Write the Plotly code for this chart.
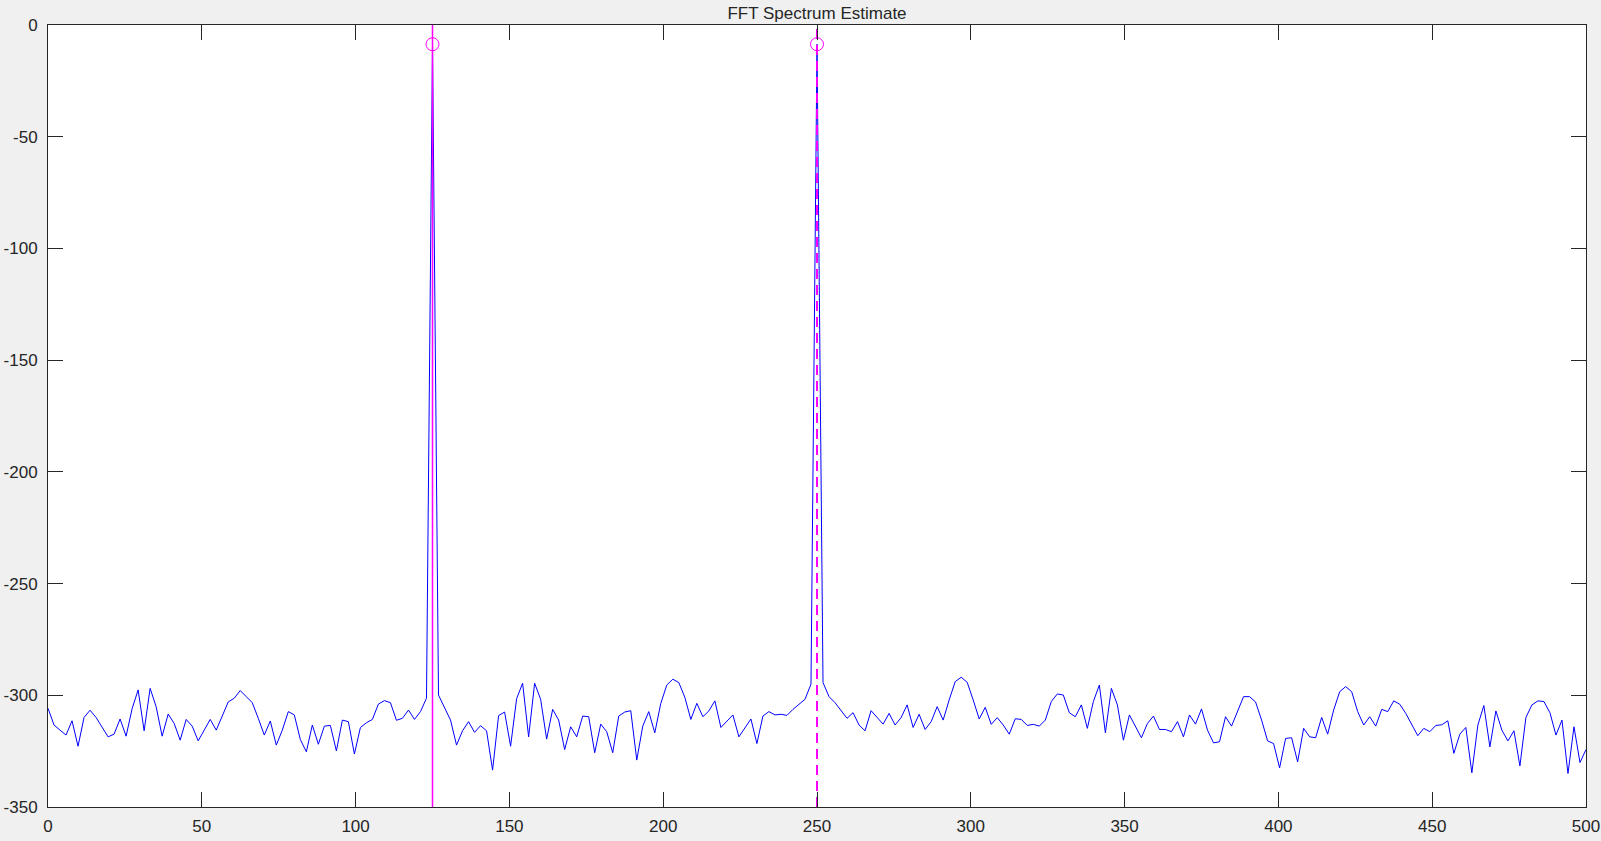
import plotly.graph_objects as go

fs = 1000
nfft = 512

# magnitude (dB) per FFT bin k = 0..256
mag_db = [
    -305.8, -313.3, -315.6, -317.8, -311.4, -322.8, -309.9, -306.7, -309.9, -314.1,
    -318.6, -317.4, -310.6, -318.3, -306.0, -297.6, -315.9, -296.9, -305.1, -318.3,
    -308.4, -312.6, -320.1, -310.8, -313.8, -320.4, -315.3, -310.8, -315.6, -309.3,
    -303.0, -301.3, -297.9, -300.6, -303.3, -310.3, -317.8, -311.5, -322.3, -315.6,
    -307.3, -308.8, -319.8, -325.3, -313.3, -321.9, -313.8, -313.5, -324.9, -311.1,
    -311.8, -326.3, -314.4, -312.3, -310.8, -303.9, -302.4, -303.3, -311.2, -310.3,
    -306.6, -310.8, -307.3, -301.3, -8.6, -299.9, -305.8, -311.1, -322.3, -315.9,
    -311.8, -316.6, -313.6, -315.9, -333.5, -309.1, -307.5, -322.8, -301.5, -294.6,
    -318.6, -294.6, -301.8, -319.6, -306.3, -311.1, -324.3, -314.1, -318.6, -309.3,
    -309.6, -325.7, -312.9, -316.3, -325.7, -309.3, -307.5, -306.9, -329.0, -313.8,
    -307.3, -316.8, -303.6, -295.4, -292.8, -294.3, -300.9, -310.8, -303.6, -309.6,
    -307.0, -302.5, -314.4, -311.5, -308.8, -318.6, -314.4, -310.6, -321.6, -309.3,
    -307.3, -308.8, -308.5, -309.0, -306.3, -304.0, -301.8, -295.0, -8.6, -294.3,
    -300.6, -303.3, -306.9, -310.3, -307.8, -313.3, -315.9, -306.9, -309.9, -312.9,
    -308.1, -313.3, -310.0, -304.3, -314.4, -308.5, -315.3, -311.8, -305.1, -311.1,
    -302.1, -293.9, -291.9, -294.2, -302.1, -310.6, -305.4, -313.0, -310.0, -313.3,
    -317.4, -310.5, -310.8, -313.5, -313.0, -313.8, -311.1, -302.8, -299.4, -299.9,
    -307.8, -309.6, -304.3, -314.8, -302.8, -295.4, -316.8, -296.9, -304.3, -320.1,
    -308.8, -313.8, -319.0, -312.6, -309.3, -315.3, -315.3, -316.3, -311.8, -318.6,
    -308.8, -312.9, -306.1, -315.6, -321.3, -320.8, -309.6, -313.8, -306.9, -300.6,
    -300.6, -303.0, -311.1, -320.4, -321.6, -332.5, -319.3, -319.0, -329.8, -314.8,
    -318.6, -319.0, -309.9, -317.4, -306.6, -298.4, -296.1, -298.4, -307.3, -313.3,
    -309.6, -313.8, -306.3, -307.3, -302.5, -304.0, -308.1, -313.3, -318.1, -314.8,
    -316.3, -313.5, -313.2, -311.4, -326.0, -317.4, -314.4, -334.7, -313.3, -304.6,
    -323.1, -307.0, -315.6, -320.4, -315.9, -331.6, -309.9, -304.3, -302.5, -302.8,
    -307.8, -317.8, -311.1, -335.0, -314.1, -330.1, -324.3,
]
freq = [k * fs / nfft for k in range(len(mag_db))]

peak_freq = [125.0, 250.0]
peak_db = [-8.6, -8.6]

x_ticks = [0, 50, 100, 150, 200, 250, 300, 350, 400, 450, 500]
y_ticks = [-350, -300, -250, -200, -150, -100, -50, 0]
y_range = [-350, 0]

blue = "#0000ff"
magenta = "#ff00ff"
axis_col = "#262626"
font_fam = "Liberation Sans, Arial, sans-serif"

fig = go.Figure()
fig.add_trace(go.Scatter(x=freq, y=mag_db, mode="lines",
                         line=dict(color=blue, width=1), hoverinfo="x+y"))
fig.add_trace(go.Scatter(x=[peak_freq[0], peak_freq[0]], y=y_range, mode="lines",
                         line=dict(color=magenta, width=1.5)))
fig.add_trace(go.Scatter(x=[peak_freq[1], peak_freq[1]], y=y_range, mode="lines",
                         line=dict(color=magenta, width=2, dash="10px,6px")))
fig.add_trace(go.Scatter(x=peak_freq, y=peak_db, mode="markers",
                         marker=dict(symbol="circle-open", size=13,
                                     color=magenta, line=dict(width=1, color=magenta))))

axis_common = dict(
    showgrid=False, zeroline=False, showline=True, linecolor=axis_col, linewidth=1,
    mirror="ticks", ticks="inside", ticklen=15, tickcolor=axis_col, tickwidth=1,
    automargin=False,
    tickfont=dict(family=font_fam, size=17, color=axis_col),
)

fig.update_layout(
    width=1601, height=841,
    paper_bgcolor="#f0f0f0", plot_bgcolor="#ffffff",
    showlegend=False,
    margin=dict(l=48, r=15, t=25, b=34, autoexpand=False),
    title=dict(text="FFT Spectrum Estimate", x=0.5, xref="paper", xanchor="center",
               y=1 - 13 / 841, yref="container", yanchor="middle",
               font=dict(family=font_fam, size=17, color=axis_col)),
    xaxis=dict(range=[0, 500], tickvals=x_ticks, ticktext=[str(v) for v in x_ticks],
               ticklabelstandoff=4, **axis_common),
    yaxis=dict(range=y_range, tickvals=y_ticks, ticktext=[str(v) for v in y_ticks],
               ticklabelstandoff=6, **axis_common),
)

fig.write_html(
    "out.html",
    config={"displayModeBar": False},
    post_script="document.body.style.margin='0';document.body.style.overflow='hidden';",
)
